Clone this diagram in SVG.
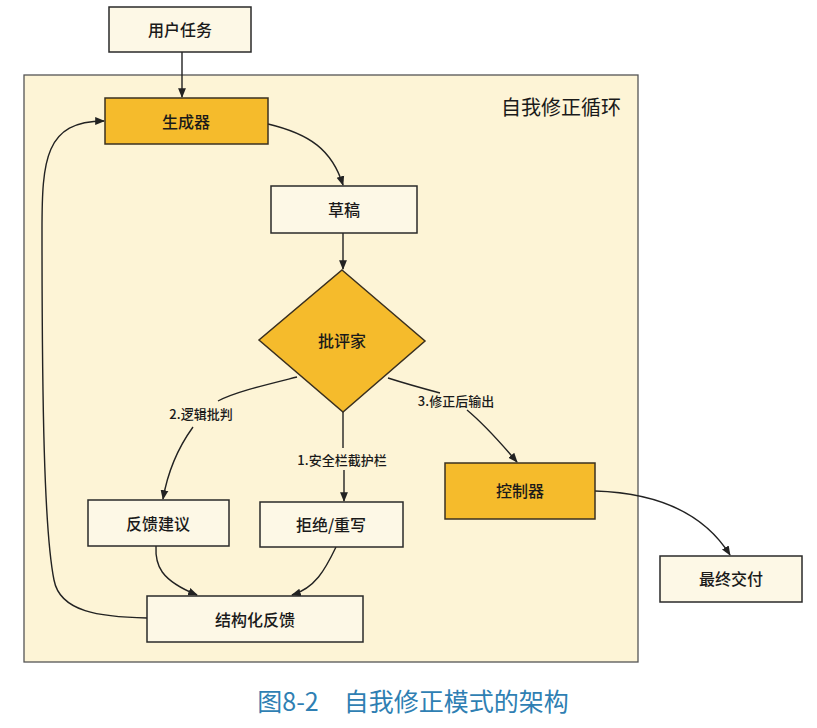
<svg xmlns="http://www.w3.org/2000/svg" width="817" height="728" viewBox="0 0 817 728">
<defs>
<style>
.box{fill:#fdf8e6;stroke:#2a2a2a;stroke-width:1.5}
.gold{fill:#f5bb2c;stroke:#3a3020;stroke-width:1.5}
.t{font-family:"Noto Sans CJK SC","Noto Sans",sans-serif;font-size:16px;font-weight:500;fill:#1a1a1a;text-anchor:middle;dominant-baseline:central}
.lbl{font-family:"Noto Sans CJK SC","Noto Sans",sans-serif;font-size:13px;font-weight:500;fill:#1a1a1a;text-anchor:middle;dominant-baseline:central}
.c{fill:none;stroke:#222;stroke-width:1.4}
</style>
<marker id="ah" viewBox="0 0 10 10" refX="9" refY="5" markerWidth="7" markerHeight="7" orient="auto-start-reverse">
<path d="M0,1 L10,5 L0,9 z" fill="#222"/>
</marker>
</defs>
<rect width="817" height="728" fill="#ffffff"/>
<g id="container">
<rect x="24" y="75" width="614" height="587" fill="#fdf4d6" stroke="#555" stroke-width="1.3"/>
<text x="621" y="106" font-family="'Noto Sans CJK SC',sans-serif" font-size="20" fill="#1a1a1a" text-anchor="end" dominant-baseline="central">自我修正循环</text>
</g>
<g id="connectors">
<path class="c" d="M182,52 L182,97" marker-end="url(#ah)"/>
<path class="c" d="M268,124 C310,134 332,150 343,185" marker-end="url(#ah)"/>
<path class="c" d="M343,233 L343,269" marker-end="url(#ah)"/>
<path class="c" d="M297,377 C265,385 235,392 218,401"/>
<path class="c" d="M193,427 C180,445 168,470 163,499" marker-end="url(#ah)"/>
<path class="c" d="M343,412 L343,448"/>
<path class="c" d="M344,470 L344,501" marker-end="url(#ah)"/>
<path class="c" d="M388,378 C410,385 425,389 440,393"/>
<path class="c" d="M467,410 C485,425 500,442 517,462" marker-end="url(#ah)"/>
<path class="c" d="M595,491 C660,493 705,515 730,555" marker-end="url(#ah)"/>
<path class="c" d="M156,546 C155,565 160,580 197,595" marker-end="url(#ah)"/>
<path class="c" d="M336,547 C325,570 315,588 292,595" marker-end="url(#ah)"/>
<path class="c" d="M147,618 C100,617 60,612 54,580 C44,530 42,400 42,230 C42,160 45,121 104,121" marker-end="url(#ah)"/>
</g>
<g id="n-task"><rect class="box" x="109" y="7" width="142" height="45"/><text class="t" x="180" y="29">用户任务</text></g>
<g id="n-gen"><rect class="gold" x="105" y="98" width="163" height="46"/><text class="t" x="186" y="121">生成器</text></g>
<g id="n-draft"><rect class="box" x="271" y="186" width="146" height="47"/><text class="t" x="344" y="209">草稿</text></g>
<g id="n-critic"><polygon class="gold" points="342,270 425,341 343,412 259,340"/><text class="t" x="342" y="340">批评家</text></g>
<g id="l-2"><text class="lbl" x="201" y="413">2.逻辑批判</text></g>
<g id="l-1"><text class="lbl" x="342" y="459">1.安全栏截护栏</text></g>
<g id="l-3"><text class="lbl" x="456" y="400">3.修正后输出</text></g>
<g id="n-advice"><rect class="box" x="88" y="500" width="141" height="46"/><text class="t" x="158" y="523">反馈建议</text></g>
<g id="n-reject"><rect class="box" x="260" y="502" width="143" height="45"/><text class="t" x="331" y="524">拒绝/重写</text></g>
<g id="n-ctrl"><rect class="gold" x="445" y="463" width="150" height="56"/><text class="t" x="520" y="490">控制器</text></g>
<g id="n-final"><rect class="box" x="660" y="556" width="142" height="46"/><text class="t" x="731" y="578">最终交付</text></g>
<g id="n-struct"><rect class="box" x="147" y="596" width="216" height="46"/><text class="t" x="255" y="619">结构化反馈</text></g>
<text x="413" y="700" font-family="'Noto Sans CJK SC',sans-serif" font-size="25" fill="#2f7fb3" text-anchor="middle" dominant-baseline="central">图8-2　自我修正模式的架构</text>
</svg>
